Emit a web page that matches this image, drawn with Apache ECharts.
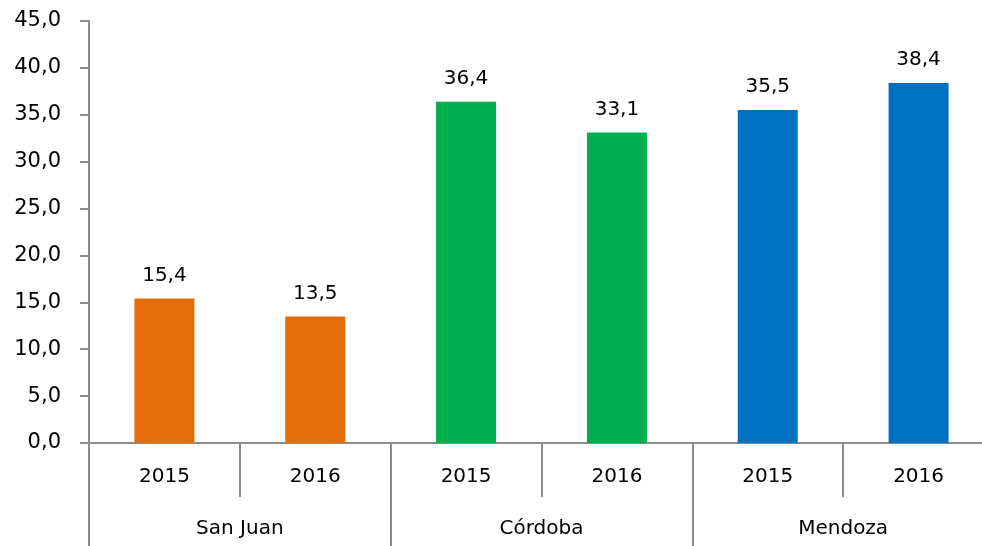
<!DOCTYPE html>
<html>
<head>
<meta charset="utf-8">
<script src="https://cdn.jsdelivr.net/npm/echarts@6/dist/echarts.min.js"></script>
<style>html,body{margin:0;padding:0;background:#fff;overflow:hidden}#c{width:1000px;height:546px}</style>
</head>
<body>
<div id="c"></div>
<script>
const years = ['2015', '2016', '2015', '2016', '2015', '2016'];
const groups = ['San Juan', 'Córdoba', 'Mendoza'];
const values = [15.4, 13.5, 36.4, 33.1, 35.5, 38.4];
const barColors = ['#E46C0A', '#E46C0A', '#00B050', '#00B050', '#0070C0', '#0070C0'];
const yTicks = { min: 0, max: 45, interval: 5 };

const fmt = v => Number(v).toFixed(1).replace('.', ',');
const font = 'DejaVu Sans';
const axisGray = '#8c8c8c';

const chart = echarts.init(document.getElementById('c'));
chart.setOption({
  animation: false,
  grid: { left: 89, width: 905, top: 21, height: 422, containLabel: false },
  xAxis: [
    {
      type: 'category', data: years, position: 'bottom',
      axisLine: { show: true, lineStyle: { color: axisGray, width: 2 } },
      axisTick: { show: true, interval: 0, length: 54, lineStyle: { color: axisGray, width: 2 } },
      axisLabel: { interval: 0, margin: 24, fontFamily: font, fontSize: 20, color: '#000' }
    },
    {
      type: 'category', data: groups, position: 'bottom',
      axisLine: { show: false },
      axisTick: { show: true, interval: 0, length: 103, lineStyle: { color: axisGray, width: 2 } },
      axisLabel: { interval: 0, margin: 76, fontFamily: font, fontSize: 20, color: '#000' }
    }
  ],
  yAxis: {
    type: 'value', min: yTicks.min, max: yTicks.max, interval: yTicks.interval,
    axisLine: { show: true, lineStyle: { color: axisGray, width: 2 } },
    axisTick: { show: true, length: 9, lineStyle: { color: axisGray, width: 2 } },
    splitLine: { show: false },
    axisLabel: { margin: 28, fontFamily: font, fontSize: 21, color: '#000', formatter: v => fmt(v) }
  },
  series: [{
    type: 'bar', xAxisIndex: 0, barWidth: 60,
    data: values.map((v, i) => ({ value: v, itemStyle: { color: barColors[i] } })),
    label: { show: true, position: 'top', distance: 13, fontFamily: font, fontSize: 20, color: '#000', formatter: p => fmt(p.value) }
  }]
});
</script>
</body>
</html>
